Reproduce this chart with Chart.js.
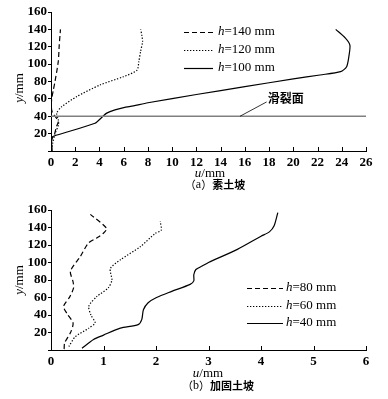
<!DOCTYPE html>
<html><head><meta charset="utf-8">
<script src="https://cdn.jsdelivr.net/npm/chart.js@4"></script>
<style>
body{margin:0;background:#fff;width:388px;height:399px;overflow:hidden;position:relative}
.box{position:absolute;left:0;width:388px}
</style></head><body>
<div class="box" style="top:0;height:200px"><canvas id="c1"></canvas></div>
<div class="box" style="top:200px;height:199px"><canvas id="c2"></canvas></div>
<script>
// ---- data: (a) 素土坡 ----
const a_xTicks = [0,2,4,6,8,10,12,14,16,18,20,22,24,26];
const a_yTicks = [20,40,60,80,100,120,140,160];
const a_h140_y = [2,13,20,28,34,40,44,50,59,70,80,103,122,140];
const a_h140_u = [0.05,0.05,0.3,0.45,0.6,0.33,0.12,0.03,0.05,0.19,0.33,0.6,0.68,0.78];
const a_h120_y = [5,9,20,30,36,43.5,51,62.6,76,85.5,93,103,115,126,133,140];
const a_h120_u = [0.1,0.14,0.33,0.62,0.6,0.47,0.88,2.12,4.04,5.97,7.1,7.25,7.4,7.56,7.5,7.4];
const a_h100_y = [0,8,15,17,32,38.6,43.6,47.4,50,52,55.5,65,74,83,87.5,91.3,97,110,122,130,140];
const a_h100_u = [0.1,0.05,0.08,0.2,3.63,4.18,4.6,5.28,6.0,6.8,8.0,12,16,20,22.2,23.9,24.4,24.6,24.67,24.3,23.5];
const a_slip_y = 40;
const a_labels = ['h=140 mm','h=120 mm','h=100 mm'];
// ---- data: (b) 加固土坡 ----
const b_xTicks = [0,1,2,3,4,5,6];
const b_yTicks = [20,40,60,80,100,120,140,160];
const b_h80_y = [1,8,21,31,42,50,61,71,78,90,107,122,128,133,139,155];
const b_h80_u = [0.25,0.26,0.38,0.42,0.3,0.24,0.36,0.43,0.42,0.37,0.56,0.71,0.87,0.99,1.06,0.75];
const b_h60_y = [4,15,25,31,40,50,61,71,80,93,103,118,133,137,147];
const b_h60_u = [0.34,0.46,0.72,0.84,0.76,0.72,0.87,1.09,1.16,1.13,1.32,1.7,1.98,2.1,2.08];
const b_h40_y = [2,12,17,25,29,35,46,54,60,67,75,79,86,92,96,100,115,130,135,142,157];
const b_h40_u = [0.59,0.81,1.0,1.32,1.66,1.73,1.76,1.85,2.01,2.3,2.65,2.72,2.72,2.76,2.88,3.0,3.55,4.0,4.16,4.25,4.32];
const b_labels = ['h=80 mm','h=60 mm','h=40 mm'];

const SERIF = '"Liberation Serif","Times New Roman",serif';
const CJK = '"Noto Sans CJK SC","Liberation Serif",serif';
const DASH = [5,3], DOT = [1.3,1.7], SOLID = [];

function pts(us, ys){ return us.map((u,i)=>({x:u,y:ys[i]})); }

function rich(ctx, parts, x, y){
  let w = 0;
  parts.forEach(p=>{ ctx.font = p[1]; w += ctx.measureText(p[0]).width; });
  let cx = x - w/2;
  ctx.textAlign='left'; ctx.textBaseline='middle'; ctx.fillStyle='#000';
  parts.forEach(p=>{ ctx.font = p[1]; ctx.fillText(p[0], cx, y); cx += ctx.measureText(p[0]).width; });
}
function richLeft(ctx, parts, x, y){
  let cx = x;
  ctx.textAlign='left'; ctx.textBaseline='middle'; ctx.fillStyle='#000';
  parts.forEach(p=>{ ctx.font = p[1]; ctx.fillText(p[0], cx, y); cx += ctx.measureText(p[0]).width; });
}

function makeChart(id, datasets, xTicks, yTicks, opts){
  const deco = {
    id:'deco',
    afterDraw(chart){
      const ctx = chart.ctx, xs = chart.scales.x, ys = chart.scales.y;
      ctx.save();
      // inward x ticks
      ctx.strokeStyle='#000'; ctx.lineWidth=1;
      xTicks.forEach(v=>{
        const px = Math.round(xs.getPixelForValue(v))+0.5;
        ctx.beginPath(); ctx.moveTo(px, ys.bottom); ctx.lineTo(px, ys.bottom-4); ctx.stroke();
      });
      // axis titles
      const it = 'italic 13px '+SERIF, nm = '13px '+SERIF;
      rich(ctx, [['u',it],['/mm',nm]], opts.uTitle[0], opts.uTitle[1]);
      ctx.save(); ctx.translate(opts.yTitle[0], opts.yTitle[1]); ctx.rotate(-Math.PI/2);
      rich(ctx, [['y',it],['/mm',nm]], 0, 0); ctx.restore();
      const cf = '11px '+CJK;
      rich(ctx, [['（',cf],[opts.capLetter,'12px '+SERIF],['）',cf],[opts.caption,'bold 11px '+CJK]], opts.capPos[0], opts.capPos[1]);
      // legend
      opts.legend.forEach((L,i)=>{
        const y = opts.legY[i]+0.5;
        ctx.beginPath(); ctx.setLineDash(L.dash); ctx.lineWidth=1.2; ctx.strokeStyle='#000';
        ctx.moveTo(opts.legX[0], y); ctx.lineTo(opts.legX[1], y); ctx.stroke(); ctx.setLineDash([]);
        const parts = L.label.split('=');
        richLeft(ctx, [[parts[0],'italic 13px '+SERIF],['='+parts[1],'13px '+SERIF]], opts.legX[2], opts.legY[i]);
      });
      if (opts.extra) opts.extra(ctx, xs, ys);
      ctx.restore();
    }
  };
  return new Chart(document.getElementById(id), {
    type:'scatter',
    data:{datasets},
    options:{
      responsive:true, maintainAspectRatio:false, animation:false,
      layout:{padding:{top:opts.padTop,right:22,left:0,bottom:0}},
      plugins:{legend:{display:false},tooltip:{enabled:false}},
      elements:{point:{radius:0}},
      scales:{
        x:{type:'linear',min:xTicks[0],max:xTicks[xTicks.length-1],
           afterBuildTicks(s){ s.ticks = xTicks.map(v=>({value:v})); },
           afterFit(s){ s.height = opts.xAxisH; },
           grid:{display:false,drawTicks:false},
           border:{display:true,color:'#000',width:1},
           ticks:{color:'#000',padding:4,maxRotation:0,autoSkip:false,font:{family:SERIF,size:13,weight:'bold'}}},
        y:{type:'linear',min:0,max:160,
           afterBuildTicks(s){ s.ticks = [0].concat(yTicks).map(v=>({value:v})); },
           afterFit(s){ s.width = 51; },
           grid:{drawOnChartArea:false,drawTicks:true,tickLength:3,color:'#000'},
           border:{display:true,color:'#000',width:1},
           ticks:{color:'#000',padding:1,autoSkip:false,font:{family:SERIF,size:13,weight:'bold'},
                  callback:v=> v===0 ? '' : v}}
      }
    },
    plugins:[deco]
  });
}

function line(data, dash, color, width, tension){
  return {data, showLine:true, borderColor:color||'#000', borderWidth:width||1.2,
          borderDash:dash, tension:tension===undefined?0.25:tension, pointRadius:0, fill:false};
}

makeChart('c1', [
  line([{x:0,y:a_slip_y},{x:26,y:a_slip_y}], SOLID, '#808080', 1.4, 0),
  line(pts(a_h140_u,a_h140_y), DASH),
  line(pts(a_h120_u,a_h120_y), DOT),
  line(pts(a_h100_u,a_h100_y), SOLID)
], a_xTicks, a_yTicks, {
  padTop:12, xAxisH:49,
  uTitle:[210,174], yTitle:[20,88], capLetter:'a', caption:'素土坡', capPos:[215,185],
  legX:[184,213,218], legY:[32,50,68],
  legend:[{label:a_labels[0],dash:DASH},{label:a_labels[1],dash:DOT},{label:a_labels[2],dash:SOLID}],
  extra(ctx, xs, ys){
    ctx.strokeStyle='#000'; ctx.lineWidth=0.8;
    ctx.beginPath();
    ctx.moveTo(xs.getPixelForValue(15.6), ys.getPixelForValue(40));
    ctx.lineTo(xs.getPixelForValue(17.8), ys.getPixelForValue(56.5));
    ctx.stroke();
    ctx.font='bold 12px '+CJK; ctx.textAlign='left'; ctx.textBaseline='middle'; ctx.fillStyle='#000';
    ctx.fillText('滑裂面', xs.getPixelForValue(17.9), ys.getPixelForValue(61));
  }
});

makeChart('c2', [
  line(pts(b_h80_u,b_h80_y), DASH),
  line(pts(b_h60_u,b_h60_y), DOT),
  line(pts(b_h40_u,b_h40_y), SOLID)
], b_xTicks, b_yTicks, {
  padTop:10, xAxisH:49,
  uTitle:[208,174], yTitle:[20,80], capLetter:'b', caption:'加固土坡', capPos:[218,186],
  legX:[247,283,286], legY:[88,106,123],
  legend:[{label:b_labels[0],dash:DASH},{label:b_labels[1],dash:DOT},{label:b_labels[2],dash:SOLID}]
});
</script>
</body></html>
